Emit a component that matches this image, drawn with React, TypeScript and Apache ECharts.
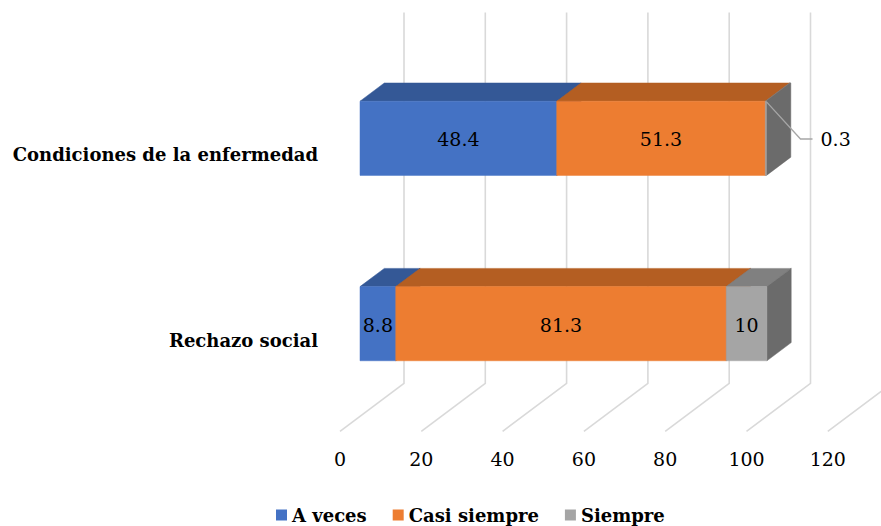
import React, { useEffect, useRef } from "react";
import * as echarts from "echarts";

const categories = ["Rechazo social", "Condiciones de la enfermedad"];
const seriesNames = ["A veces", "Casi siempre", "Siempre"];
const aVeces = [8.8, 48.4];
const casiSiempre = [81.3, 51.3];
const siempre = [10, 0.3];
const xTicks = [0, 20, 40, 60, 80, 100, 120];

const FONT = "DejaVu Serif";
const SIZE = 19;
const BOLD_SIZE = 18;
const faceColors = [
  { front: "#4472C4", top: "#345896", side: "#2C4C85" },
  { front: "#ED7D31", top: "#B45E22", side: "#9C5120" },
  { front: "#A5A5A5", top: "#808080", side: "#6B6B6B" },
];

const DEPTH = 24.3;
const SLOPE = 0.75;
const FLOOR_FRONT = -20;
const BACK_WALL = 44;

export default function App() {
  const ref = useRef<HTMLDivElement>(null);
  useEffect(() => {
    if (!ref.current) return;
    const chart = echarts.init(ref.current, undefined, { renderer: "svg" });
    const allValues = [aVeces, casiSiempre, siempre];

    const barSeries = allValues.map((vals, si) => {
      const data = vals.map((v, ci) => {
        let start = 0;
        for (let k = 0; k < si; k++) start += allValues[k][ci];
        return [start, start + v, ci, v];
      });
      const col = faceColors[si];
      return {
        type: "custom",
        name: seriesNames[si],
        xAxisIndex: 0,
        yAxisIndex: 0,
        z: 3,
        clip: false,
        itemStyle: { color: col.front },
        encode: { x: [0, 1], y: 2 },
        data,
        renderItem: (params: any, api: any) => {
          const start = api.value(0);
          const end = api.value(1);
          const cat = api.value(2);
          const val = api.value(3);
          const p0 = api.coord([start, cat]);
          const p1 = api.coord([end, cat]);
          const band = api.size([0, 1])[1];
          const h = band * 0.4;
          const yTop = p0[1] - h / 2;
          const yBot = yTop + h;
          const x0 = p0[0];
          const x1 = p1[0];
          const dx = DEPTH;
          const dy = DEPTH * SLOPE;
          const children: any[] = [
            {
              type: "polygon",
              shape: { points: [[x0, yTop], [x1, yTop], [x1 + dx, yTop - dy], [x0 + dx, yTop - dy]] },
              style: { fill: col.top, stroke: col.top, lineWidth: 0.5 },
            },
            {
              type: "polygon",
              shape: { points: [[x1, yTop], [x1 + dx, yTop - dy], [x1 + dx, yBot - dy], [x1, yBot]] },
              style: { fill: col.side, stroke: col.side, lineWidth: 0.5 },
            },
            {
              type: "rect",
              shape: { x: x0, y: yTop, width: x1 - x0, height: h },
              style: { fill: col.front, stroke: col.front, lineWidth: 0.5 },
            },
          ];
          const yc = (yTop + yBot) / 2;
          if (val >= 2) {
            children.push({
              type: "text",
              style: {
                text: String(val),
                x: (x0 + x1) / 2,
                y: yc + 1,
                align: "center",
                verticalAlign: "middle",
                fontFamily: FONT,
                fontSize: SIZE,
                fill: "#000",
              },
            });
          } else {
            children.push({
              type: "polyline",
              shape: { points: [[x1, yTop + 0.7], [x1 + 34, yc + 0.7], [x1 + 46, yc + 0.7]] },
              style: { stroke: "#A6A6A6", lineWidth: 1.3, fill: "none" },
            });
            children.push({
              type: "text",
              style: {
                text: String(val),
                x: x1 + 54,
                y: yc + 1,
                align: "left",
                verticalAlign: "middle",
                fontFamily: FONT,
                fontSize: SIZE,
                fill: "#000",
              },
            });
          }
          return { type: "group", children };
        },
      };
    });

    const frameSeries = {
      type: "custom",
      name: "frame",
      xAxisIndex: 0,
      yAxisIndex: 0,
      z: 1,
      clip: false,
      silent: true,
      encode: { x: 0 },
      data: xTicks.map((t) => [t]),
      renderItem: (params: any, api: any) => {
        const cs = params.coordSys;
        const x = api.coord([api.value(0), 0])[0];
        const yb = cs.y + cs.height;
        const xBack = x + BACK_WALL;
        const yBackTop = cs.y - BACK_WALL * SLOPE;
        const yBackBot = yb - BACK_WALL * SLOPE;
        const xFront = x + FLOOR_FRONT;
        const yFront = yb - FLOOR_FRONT * SLOPE;
        return {
          type: "polyline",
          shape: { points: [[xBack, yBackTop], [xBack, yBackBot], [xFront, yFront]] },
          style: { stroke: "#D9D9D9", lineWidth: 1.6, fill: "none" },
        };
      },
    };

    const plotTop = 45.6;
    const plotHeight = 370.8;
    const plotWidth = 487.8;

    chart.setOption({
      animation: false,
      backgroundColor: "#fff",
      grid: [
        { left: 360, top: plotTop, width: plotWidth, height: plotHeight, containLabel: false },
        { left: 360 + FLOOR_FRONT, top: plotTop - FLOOR_FRONT * SLOPE + 1.5, width: plotWidth, height: plotHeight, containLabel: false },
      ],
      xAxis: [
        { type: "value", gridIndex: 0, min: 0, max: 120, interval: 20, show: false },
        {
          type: "value",
          gridIndex: 1,
          min: 0,
          max: 120,
          interval: 20,
          axisLine: { show: false },
          axisTick: { show: false },
          splitLine: { show: false },
          axisLabel: { fontFamily: FONT, fontSize: SIZE, color: "#000", margin: 17 },
        },
      ],
      yAxis: [
        { type: "category", gridIndex: 0, data: categories, show: false },
        {
          type: "category",
          gridIndex: 1,
          data: categories,
          axisLine: { show: false },
          axisTick: { show: false },
          splitLine: { show: false },
          axisLabel: { fontFamily: FONT, fontSize: BOLD_SIZE, fontWeight: "bold", color: "#000", margin: 22 },
        },
      ],
      legend: {
        data: seriesNames,
        icon: "rect",
        itemWidth: 11,
        itemHeight: 11,
        itemGap: 26,
        left: 276,
        top: 505,
        padding: 0,
        textStyle: { fontFamily: FONT, fontSize: BOLD_SIZE, fontWeight: "bold", color: "#000", lineHeight: 20 },
      },
      series: [frameSeries, ...barSeries],
    });
    return () => chart.dispose();
  }, []);
  return (
    <div
      ref={ref}
      style={{ position: "absolute", left: 0, top: 0, width: 881, height: 526 }}
    />
  );
}
